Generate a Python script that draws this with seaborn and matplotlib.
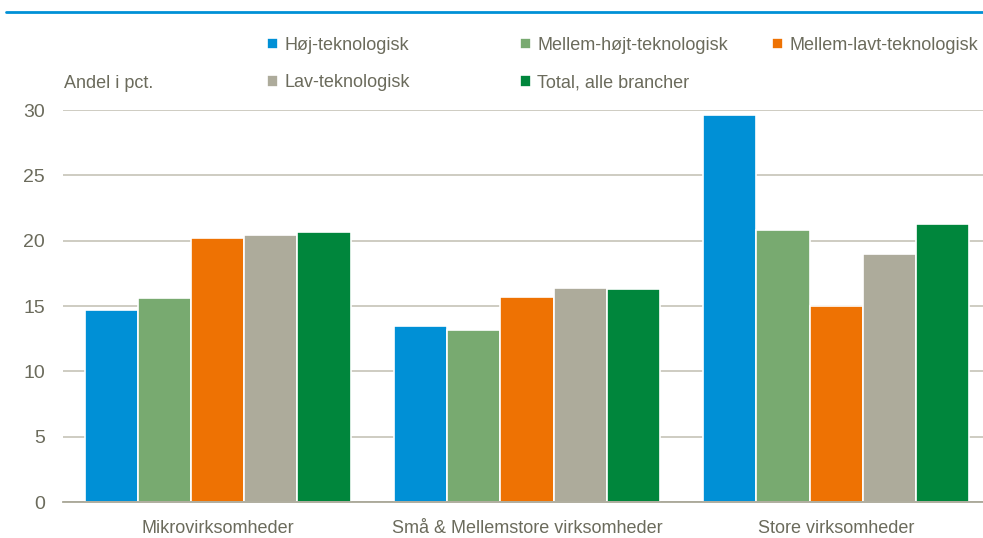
import pandas as pd
import seaborn as sns
import matplotlib.pyplot as plt
from matplotlib.lines import Line2D

# Data
groups = ["Mikrovirksomheder", "Små & Mellemstore virksomheder", "Store virksomheder"]
series = ["Høj-teknologisk", "Mellem-højt-teknologisk", "Mellem-lavt-teknologisk",
          "Lav-teknologisk", "Total, alle brancher"]
hoj = [14.7, 13.5, 29.6]
mellem_hojt = [15.6, 13.2, 20.8]
mellem_lavt = [20.2, 15.7, 15.0]
lav = [20.4, 16.4, 19.0]
total = [20.7, 16.3, 21.25]
colors = ["#0090D6", "#78AA70", "#EE7203", "#ADAB9B", "#00863C"]
yticks = [0, 5, 10, 15, 20, 25, 30]

rows = []
for name, vals in zip(series, [hoj, mellem_hojt, mellem_lavt, lav, total]):
    for g, v in zip(groups, vals):
        rows.append({"gruppe": g, "serie": name, "andel": v})
df = pd.DataFrame(rows)

sns.set_style("white")
plt.rcParams["font.family"] = ["Liberation Sans", "DejaVu Sans"]
txt = "#6B6B5C"

fig = plt.figure(figsize=(9.83, 5.38), dpi=100)
ax = fig.add_axes([0.0641, 0.0669, 0.944, 0.7286])

sns.barplot(data=df, x="gruppe", y="andel", hue="serie", order=groups,
            hue_order=series, palette=colors, width=0.86, saturation=1,
            edgecolor="white", linewidth=1.2, ax=ax)

ax.set_ylim(0, 30)
ax.set_yticks(yticks)
ax.set_xlabel("")
ax.set_ylabel("")
ax.yaxis.grid(True, color="#CAC8BD", linewidth=1.3)
ax.set_axisbelow(True)
for s in ["top", "right", "left"]:
    ax.spines[s].set_visible(False)
ax.spines["bottom"].set_color("#A9A797")
ax.spines["bottom"].set_linewidth(1.3)
ax.tick_params(axis="both", length=0, labelsize=13, labelcolor=txt)
ax.tick_params(axis="y", labelsize=14, pad=13)
ax.tick_params(axis="x", pad=13)

handles, labels = ax.get_legend_handles_labels()
ax.get_legend().remove()

# Legend laid out in three columns like the original
cols = [([0, 3], 267), ([1, 4], 520), ([2], 772)]
for idx, xpix in cols:
    fig.legend([handles[i] for i in idx], [labels[i] for i in idx],
               loc="upper left", bbox_to_anchor=(xpix / 983, 1 - 37 / 538),
               frameon=False, fontsize=13, labelcolor=txt, borderpad=0,
               borderaxespad=0, handlelength=0.6, handleheight=0.6,
               handletextpad=0.35, labelspacing=1.13)

fig.text(64 / 983, 1 - 83 / 538, "Andel i pct.", fontsize=13, color=txt,
         ha="left", va="center")

# Blue rule under the (cropped) title
fig.add_artist(Line2D([6 / 983, 1], [1 - 12 / 538] * 2, color="#0090D6", lw=2))

fig.savefig("out.png", dpi=100)
